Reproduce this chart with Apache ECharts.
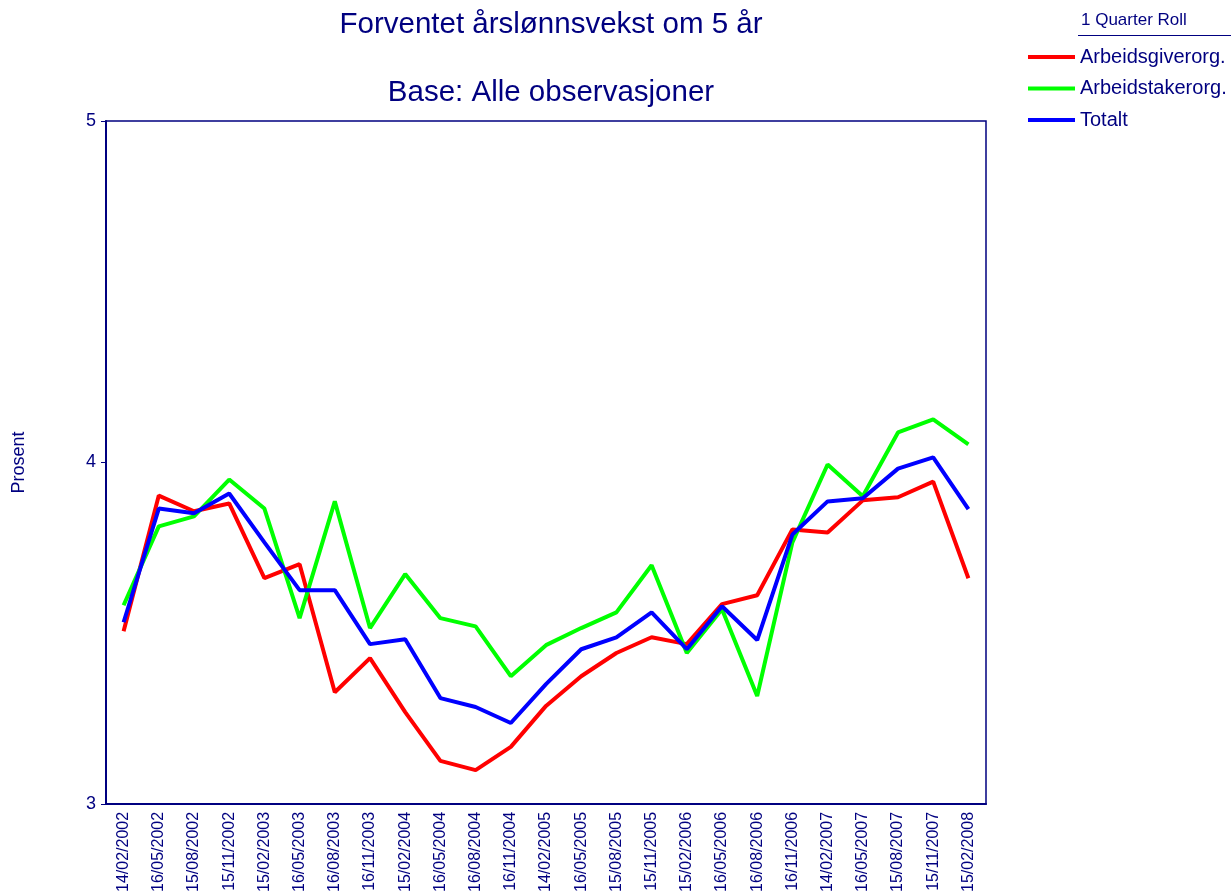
<!DOCTYPE html>
<html><head><meta charset="utf-8">
<script src="https://cdn.jsdelivr.net/npm/echarts@6/dist/echarts.min.js"></script>
<style>html,body{margin:0;padding:0;background:#fff}#c{width:1231px;height:895px}</style>
</head><body><div id="c"></div>
<script>
const categories = ['14/02/2002','16/05/2002','15/08/2002','15/11/2002','15/02/2003','16/05/2003','16/08/2003','16/11/2003','15/02/2004','16/05/2004','16/08/2004','16/11/2004','14/02/2005','16/05/2005','15/08/2005','15/11/2005','15/02/2006','16/05/2006','16/08/2006','16/11/2006','14/02/2007','16/05/2007','15/08/2007','15/11/2007','15/02/2008'];
const arbeidsgiver = [3.506,3.903,3.857,3.880,3.661,3.702,3.327,3.427,3.269,3.126,3.099,3.167,3.287,3.374,3.442,3.488,3.468,3.585,3.611,3.804,3.795,3.889,3.898,3.944,3.661];
const arbeidstaker = [3.582,3.813,3.842,3.950,3.865,3.544,3.886,3.515,3.673,3.544,3.520,3.374,3.465,3.515,3.561,3.699,3.442,3.570,3.316,3.766,3.994,3.901,4.088,4.126,4.053];
const totalt = [3.532,3.865,3.851,3.909,3.766,3.626,3.626,3.468,3.482,3.310,3.284,3.237,3.351,3.453,3.488,3.561,3.453,3.579,3.480,3.789,3.886,3.895,3.982,4.015,3.863];
const seriesNames = ['Arbeidsgiverorg.','Arbeidstakerorg.','Totalt'];
const navy = '#000080';
const FONT = 'Liberation Sans, Arial, sans-serif';
const chart = echarts.init(document.getElementById('c'));
function mk(name, data, color){
  return {name, type:'line', data, symbol:'none', smooth:false,
    lineStyle:{color, width:4}, itemStyle:{color}, z:3};
}
chart.setOption({
  animation:false,
  backgroundColor:'#fff',
  title:[
    {text:'Forventet årslønnsvekst om 5 år', left:546, top:5, textAlign:'center',
     textStyle:{color:navy, fontSize:29.5, fontWeight:'normal', fontFamily:FONT}},
    {text:'Base: Alle observasjoner', left:546, top:73, textAlign:'center',
     textStyle:{color:navy, fontSize:29.5, fontWeight:'normal', fontFamily:FONT}}
  ],
  legend:{
    orient:'vertical', left:1023, top:42, itemWidth:47, itemHeight:4, itemGap:11.5,
    icon:'rect', data:seriesNames,
    textStyle:{color:navy, fontSize:20, fontFamily:FONT}
  },
  graphic:[
    {type:'text', left:1081, top:12, style:{text:'1 Quarter Roll', fill:navy, font:'17px '+FONT}},
    {type:'line', shape:{x1:1078, y1:35.5, x2:1231, y2:35.5}, style:{stroke:navy, lineWidth:1}}
  ],
  grid:{left:106, top:121, width:880, height:684, show:true, borderColor:navy, borderWidth:1.5, containLabel:false},
  xAxis:{
    type:'category', data:categories, boundaryGap:true,
    axisLine:{lineStyle:{color:navy, width:2}},
    axisTick:{alignWithLabel:true, length:5, lineStyle:{color:navy}},
    axisLabel:{rotate:90, interval:0, color:navy, fontSize:16, fontFamily:FONT, margin:8},
    splitLine:{show:false}
  },
  yAxis:{
    type:'value', min:3, max:5, interval:1, name:'Prosent', nameLocation:'middle', nameGap:78,
    nameTextStyle:{color:navy, fontSize:18, fontFamily:FONT},
    axisLine:{show:true, lineStyle:{color:navy, width:2}},
    axisTick:{show:true, length:5, lineStyle:{color:navy}},
    axisLabel:{color:navy, fontSize:18, fontFamily:FONT, margin:10},
    splitLine:{show:false}
  },
  series:[
    mk(seriesNames[0], arbeidsgiver, '#ff0000'),
    mk(seriesNames[1], arbeidstaker, '#00ff00'),
    mk(seriesNames[2], totalt, '#0000ff')
  ]
});
</script></body></html>
